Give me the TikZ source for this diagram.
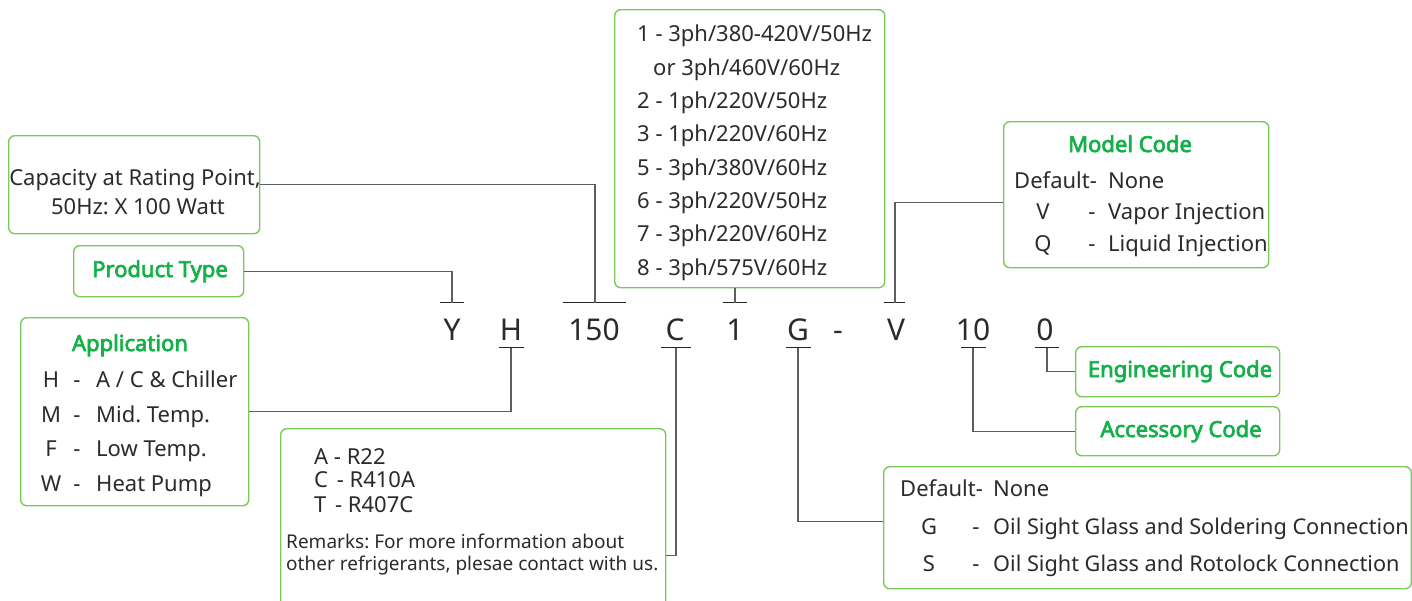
\documentclass[tikz,border=0pt]{standalone}
\usepackage{fontspec}
\setmainfont{Noto Sans}
\newfontfamily\ttlfont{Noto Sans}[FakeBold=3.2]
\definecolor{boxg}{HTML}{7CC95B}
\definecolor{titleg}{HTML}{14B04A}
\definecolor{txt}{HTML}{2B2B2B}
\definecolor{lineg}{HTML}{5E5E5E}
\tikzset{
 box/.style={draw=boxg, line width=1.4pt, rounded corners=6pt, inner sep=0pt, anchor=north west},
 body/.style={font=\fontsize{22}{26}\selectfont, text=txt, inner sep=0pt},
 small/.style={font=\fontsize{19}{22}\selectfont, text=txt, inner sep=0pt, anchor=base west},
 bw/.style={body, anchor=base west},
 bc/.style={body, anchor=base},
 ttl/.style={font=\ttlfont\fontsize{22}{26}\selectfont, text=titleg, inner sep=0pt, anchor=base},
 code/.style={font=\fontsize{30}{34}\selectfont, text=txt, inner sep=0pt, anchor=base},
 tickln/.style={draw=black!85, line width=1.2pt},
 conn/.style={draw=lineg, line width=1.1pt},
}
\begin{document}
\frenchspacing
\begin{tikzpicture}[x=1pt,y=-1pt]
\useasboundingbox (0,0) rectangle (1412,600);
\clip (0,0) rectangle (1412,600);
\fill[white] (0,0) rectangle (1412,600);

% ---- boxes ----
\node[box, minimum width=251pt, minimum height=98pt] (cap) at (8,135) {};
\node[box, minimum width=170pt, minimum height=51pt] (prod) at (73,245) {};
\node[box, minimum width=228pt, minimum height=188pt] (app) at (20,317) {};
\node[box, minimum width=385pt, minimum height=220pt] (ref) at (280,428) {};
\node[box, minimum width=270pt, minimum height=278pt] (pow) at (614,9) {};
\node[box, minimum width=265pt, minimum height=146pt] (mod) at (1003,121) {};
\node[box, minimum width=204pt, minimum height=50pt] (eng) at (1075,346) {};
\node[box, minimum width=204pt, minimum height=49pt] (acc) at (1075,406) {};
\node[box, minimum width=527.5pt, minimum height=122pt] (gbox) at (883,466) {};

% ---- capacity ----
\node[bc] (cap1) at (135,185) {Capacity at Rating Point,};
\node[bc] (cap2) at (138,214) {50Hz: X 100 Watt};

% ---- product type ----
\node[ttl] (prodt) at (160,277) {Product Type};

% ---- application ----
\node[ttl] (appt) at (130,351) {Application};
\node[bc] (aH) at (51,387) {H};  \node[bc] (aHd) at (77,387) {-}; \node[bw] (aHt) at (96,387) {A / C \& Chiller};
\node[bc] (aM) at (51,422) {M};  \node[bc] (aMd) at (77,422) {-}; \node[bw] (aMt) at (96,422) {Mid. Temp.};
\node[bc] (aF) at (51,456) {F};  \node[bc] (aFd) at (77,456) {-}; \node[bw] (aFt) at (96,456) {Low Temp.};
\node[bc] (aW) at (51,491) {W};  \node[bc] (aWd) at (77,491) {-}; \node[bw] (aWt) at (96,491) {Heat Pump};

% ---- refrigerant ----
\node[bw] (rA) at (314,464) {A - R22};
\node[bw] (rC) at (314,487) {C\hspace{3pt} - R410A};
\node[bw] (rT) at (314,512) {T\hspace{3pt} - R407C};
\node[small] (rm1) at (286,548) {Remarks: For more information about};
\node[small] (rm2) at (286,570) {other refrigerants, plesae contact with us.};

% ---- power ----
\node[bw] (p1) at (637,41) {1 - 3ph/380-420V/50Hz};
\node[bw] (p1b) at (653,75) {or 3ph/460V/60Hz};
\node[bw] (p2) at (637,108) {2 - 1ph/220V/50Hz};
\node[bw] (p3) at (637,141) {3 - 1ph/220V/60Hz};
\node[bw] (p5) at (637,175) {5 - 3ph/380V/60Hz};
\node[bw] (p6) at (637,208) {6 - 3ph/220V/50Hz};
\node[bw] (p7) at (637,241) {7 - 3ph/220V/60Hz};
\node[bw] (p8) at (637,275) {8 - 3ph/575V/60Hz};

% ---- model code ----
\node[ttl] (modt) at (1130,152) {Model Code};
\node[bw] (mD) at (1014,188) {Default-}; \node[bw] (mDn) at (1108,188) {None};
\node[bc] (mV) at (1043,219) {V}; \node[bc] (mVd) at (1092,219) {-}; \node[bw] (mVt) at (1108,219) {Vapor Injection};
\node[bc] (mQ) at (1043,251) {Q}; \node[bc] (mQd) at (1092,251) {-}; \node[bw] (mQt) at (1108,251) {Liquid Injection};

% ---- engineering / accessory ----
\node[ttl] (engt) at (1180,377) {Engineering Code};
\node[ttl] (acct) at (1181,437) {Accessory Code};

% ---- G box ----
\node[bw] (gD) at (900,496) {Default-}; \node[bw] (gDn) at (993,496) {None};
\node[bc] (gG) at (929,534) {G}; \node[bc] (gGd) at (976,534) {-};
\node[bw, font=\fontsize{21.7}{26}\selectfont] (gGt) at (993,534) {Oil Sight Glass and Soldering Connection};
\node[bc] (gS) at (929,571) {S}; \node[bc] (gSd) at (976,571) {-};
\node[bw, font=\fontsize{21.7}{26}\selectfont] (gSt) at (993,571) {Oil Sight Glass and Rotolock Connection};

% ---- code letters ----
\node[code] (cY) at (452,340) {Y};
\node[code] (cH) at (511,340) {H};
\node[code] (c150) at (594,340) {150};
\node[code] (cC) at (675,340) {C};
\node[code] (c1) at (735,340) {1};
\node[code] (cG) at (798,340) {G};
\node[code] (cdash) at (838,340) {-};
\node[code] (cV) at (896,340) {V};
\node[code] (c10) at (973,340) {10};
\node[code] (c0) at (1045,340) {0};

% ---- ticks ----
\coordinate (tY) at (452,302.5);
\coordinate (t150) at (595,302.5);
\coordinate (t1) at (735,302.5);
\coordinate (tV) at (895,302.5);
\coordinate (tH) at (511,347.5);
\coordinate (tC) at (676,347.5);
\coordinate (tG) at (798,347.5);
\coordinate (t10) at (973,347.5);
\coordinate (t0) at (1047,347.5);
\draw[tickln] ([xshift=-12pt]tY) -- ([xshift=12pt]tY);
\draw[tickln] ([xshift=-32pt]t150) -- ([xshift=31pt]t150);
\draw[tickln] ([xshift=-12pt]t1) -- ([xshift=12pt]t1);
\draw[tickln] ([xshift=-11pt]tV) -- ([xshift=10pt]tV);
\draw[tickln] ([xshift=-12pt]tH) -- ([xshift=13pt]tH);
\draw[tickln] ([xshift=-15pt]tC) -- ([xshift=15pt]tC);
\draw[tickln] ([xshift=-12pt]tG) -- ([xshift=13pt]tG);
\draw[tickln] ([xshift=-12pt]t10) -- ([xshift=13pt]t10);
\draw[tickln] ([xshift=-12pt]t0) -- ([xshift=12pt]t0);

% ---- connectors ----
\draw[conn] (cap.east) -| (t150);
\draw[conn] (prod.east) -| (tY);
\draw[conn] (t1 |- pow.south) -- (t1);
\draw[conn] (mod.west) ++(0,8) -| (tV);
\draw[conn] (app.east) -| (tH);
\draw[conn] (ref.east) ++(0,17) -| (tC);
\draw[conn] (gbox.west) ++(0,-6) -| (tG);
\draw[conn] (acc.west) -| (t10);
\draw[conn] (eng.west) -| (t0);
\end{tikzpicture}
\end{document}
